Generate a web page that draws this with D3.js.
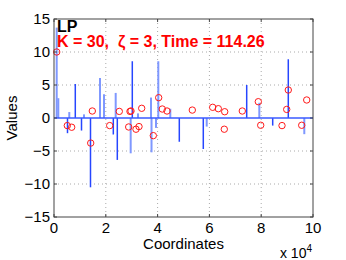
<!DOCTYPE html>
<html lang="en">
<head>
  <meta charset="utf-8">
  <title>LP stem plot</title>
  <script src="https://d3js.org/d3.v7.min.js"></script>
  <style>
    body { margin: 0; background: #fff; }
    text { font-family: "Liberation Sans", Arial, Helvetica, sans-serif; }
  </style>
</head>
<body>
  <div id="chart"></div>
  <script>
    // light (wide) stems
    var lightX = [1040, 1660, 5900, 11580, 17760, 19300, 23820, 29610, 32430, 37450, 37650, 39380, 40270, 44900, 58960, 79270, 96640];
    var lightY = [13.7, 3.0, 0.9, 0.55, 6.06, 3.6, 3.8, -5.35, 0.7, 3.1, -5.2, -1.5, 8.6, 1.4, -1.3, 2.3, -2.45];
    // dark (thin) stems
    var darkX = [5210, 8220, 10620, 14090, 22900, 24440, 30230, 48380, 57640, 74400, 84440, 90460];
    var darkY = [-2.3, 5.15, -1.9, -10.5, -2.5, -6.35, 8.6, -3.6, -4.7, 5.0, -1.15, 8.9];
    // red circles
    var circX = [1040, 5140, 6830, 14170, 14790, 21510, 25210, 28840, 29340, 29730, 31660, 32820, 33860, 38340, 40420,
      41810, 43630, 53400, 61270, 63440, 65750, 65910, 72700, 78880, 79810, 88030, 89850, 90460, 95640, 97570];
    var circY = [10.0, -1.15, -1.4, -3.8, 1.06, -1.15, 1.0, -1.36, 1.0, 1.06, -1.7, -1.3, 1.47, -2.67, 3.08,
      1.36, 1.06, 1.2, 1.62, 1.41, -1.7, 0.95, 1.06, 2.47, -1.1, -1.15, 1.3, 4.24, -1.1, 2.73];

    var xTicks = [0, 20000, 40000, 60000, 80000, 100000];
    var yTicks = [-15, -10, -5, 0, 5, 10, 15];

    var margin = { top: 19, right: 33, bottom: 43, left: 54 },
      width = 346 - margin.left - margin.right,
      height = 260 - margin.top - margin.bottom;

    var svg = d3.select("#chart").append("svg")
      .attr("width", 346).attr("height", 260);
    var g = svg.append("g")
      .attr("transform", "translate(" + margin.left + "," + margin.top + ")");

    var x = d3.scaleLinear().domain([0, 100000]).range([0, width]);
    var y = d3.scaleLinear().domain([-15, 15]).range([height, 0]);

    // dotted grid
    g.append("g").selectAll("line").data(xTicks.slice(1, -1)).enter().append("line")
      .attr("x1", d => x(d)).attr("x2", d => x(d)).attr("y1", 0).attr("y2", height)
      .attr("stroke", "#aaa").attr("stroke-width", 1).attr("stroke-dasharray", "1,3");
    g.append("g").selectAll("line").data(yTicks.slice(1, -1).filter(d => d != 0)).enter().append("line")
      .attr("y1", d => y(d)).attr("y2", d => y(d)).attr("x1", 0).attr("x2", width)
      .attr("stroke", "#aaa").attr("stroke-width", 1).attr("stroke-dasharray", "1,3");

    // stems
    g.append("g").selectAll("line").data(lightX).enter().append("line")
      .attr("x1", d => x(d)).attr("x2", d => x(d))
      .attr("y1", y(0)).attr("y2", (d, i) => y(lightY[i]))
      .attr("stroke", "#7f98ff").attr("stroke-width", 2);
    g.append("g").selectAll("line").data(darkX).enter().append("line")
      .attr("x1", d => x(d)).attr("x2", d => x(d))
      .attr("y1", y(0)).attr("y2", (d, i) => y(darkY[i]))
      .attr("stroke", "#2646ff").attr("stroke-width", 1.5);

    // baseline
    g.append("line").attr("x1", 0).attr("x2", width).attr("y1", y(0)).attr("y2", y(0))
      .attr("stroke", "#3a5aff").attr("stroke-width", 1.5);

    // circles
    g.append("g").selectAll("circle").data(circX).enter().append("circle")
      .attr("cx", d => x(d)).attr("cy", (d, i) => y(circY[i])).attr("r", 3.2)
      .attr("fill", "none").attr("stroke", "#ff1a1a").attr("stroke-width", 1);

    // axes box with inward ticks
    var axisColor = "#444";
    g.append("rect").attr("width", width).attr("height", height)
      .attr("fill", "none").attr("stroke", axisColor).attr("stroke-width", 1);
    xTicks.forEach(function (t) {
      g.append("line").attr("x1", x(t)).attr("x2", x(t)).attr("y1", height).attr("y2", height - 3).attr("stroke", axisColor);
      g.append("line").attr("x1", x(t)).attr("x2", x(t)).attr("y1", 0).attr("y2", 3).attr("stroke", axisColor);
    });
    yTicks.forEach(function (t) {
      g.append("line").attr("y1", y(t)).attr("y2", y(t)).attr("x1", 0).attr("x2", 3).attr("stroke", axisColor);
      g.append("line").attr("y1", y(t)).attr("y2", y(t)).attr("x1", width).attr("x2", width - 3).attr("stroke", axisColor);
    });

    // tick labels
    g.append("g").selectAll("text").data(xTicks).enter().append("text")
      .attr("x", d => x(d)).attr("y", height + 16).attr("text-anchor", "middle")
      .attr("font-size", 15).text(d => d / 10000);
    g.append("g").selectAll("text").data(yTicks).enter().append("text")
      .attr("x", -4).attr("y", d => y(d) + 5).attr("text-anchor", "end")
      .attr("font-size", 15).text(d => d < 0 ? "\u2212" + Math.abs(d) : d);

    // axis labels
    g.append("text").attr("x", width / 2).attr("y", height + 32).attr("text-anchor", "middle")
      .attr("font-size", 15).text("Coordinates");
    var exp = g.append("text").attr("x", width - 1).attr("y", height + 41).attr("text-anchor", "end")
      .attr("font-size", 14);
    exp.append("tspan").text("x 10");
    exp.append("tspan").attr("font-size", 10).attr("dy", -6).text("4");
    g.append("text").attr("transform", "translate(-37," + (height / 2) + ") rotate(-90)")
      .attr("text-anchor", "middle").attr("font-size", 15).text("Values");

    // title text inside the axes
    g.append("text").attr("x", 3).attr("y", 13).attr("font-size", 16).attr("font-weight", "bold")
      .attr("fill", "#000").text("LP");
    g.append("text").attr("x", 3).attr("y", 28).attr("font-size", 16).attr("font-weight", "bold")
      .attr("fill", "#ff0000").style("white-space", "pre").text("K = 30,  \u03b6 = 3, Time = 114.26");
  </script>
</body>
</html>
